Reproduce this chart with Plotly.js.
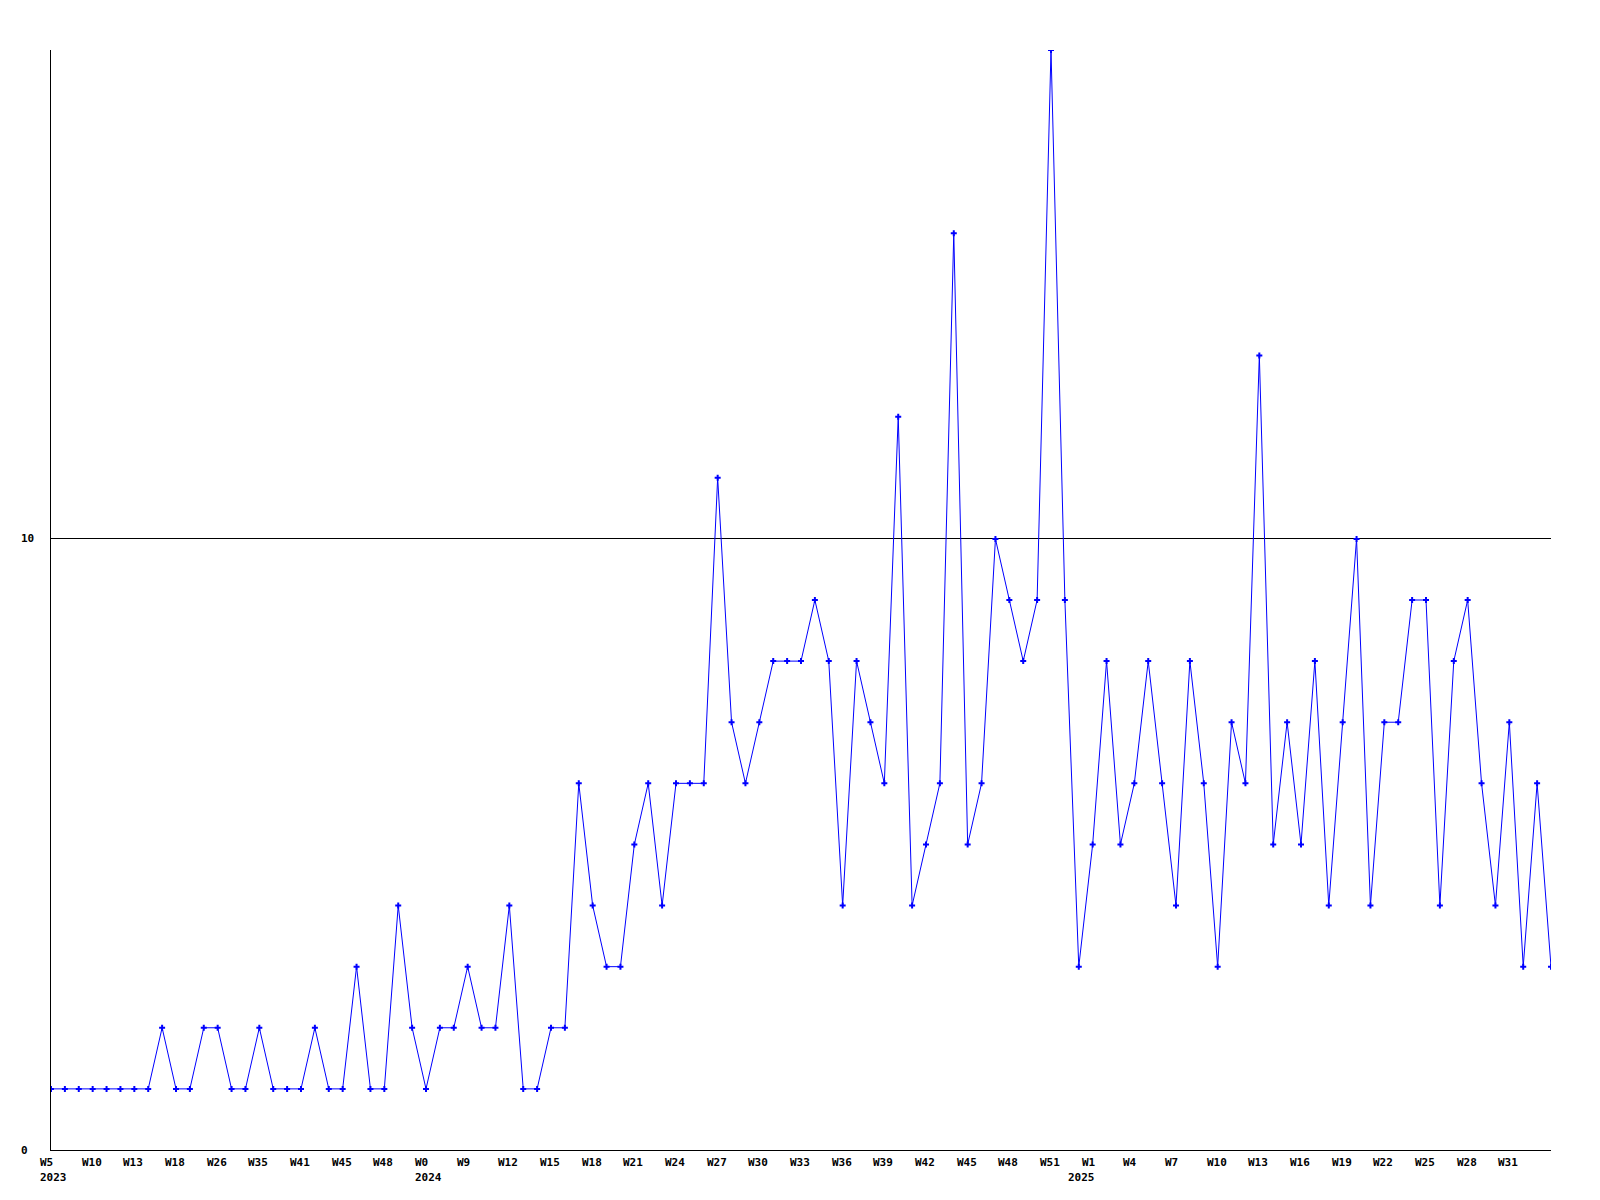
<!DOCTYPE html>
<html>
<head>
<meta charset="utf-8">
<script src="https://cdn.plot.ly/plotly-3.0.1.min.js"></script>
<style>html,body{margin:0;padding:0;background:#fff;}#chart{width:1600px;height:1200px;}</style>
</head>
<body>
<div id="chart"></div>
<script>
// weekly counts, one per point (109 points)
const counts = [
  1,1,1,1,1,1,1,1,2,1,1,2,2,1,1,2,1,1,1,2,1,1,3,1,1,4,2,1,2,2,
  3,2,2,4,1,1,2,2,6,4,3,3,5,6,4,6,6,6,11,7,6,7,8,8,8,9,8,4,8,7,
  6,12,4,5,6,15,5,6,10,9,8,9,18,9,3,5,8,5,6,8,6,4,8,6,3,7,6,13,5,7,
  5,8,4,7,10,4,7,7,9,9,4,8,9,6,4,7,3,6,3
];
// x tick labels, one every 3 points
const weekLabels = ["W5","W10","W13","W18","W26","W35","W41","W45","W48","W0","W9","W12",
  "W15","W18","W21","W24","W27","W30","W33","W36","W39","W42","W45","W48","W51",
  "W1","W4","W7","W10","W13","W16","W19","W22","W25","W28","W31"];
const yearLabels = ["2023","","","","","","","","","2024","","",
  "","","","","","","","","","","","","",
  "2025","","","","","","","","","",""];
const yTickVals = [0, 10];
const yTickText = ["0", "10"];

const tickStep = 3;
const xs = counts.map((v, i) => i);

const font = {family: "DejaVu Sans Mono, Liberation Mono, monospace", size: 11, color: "#000"};

const annotations = [];
weekLabels.forEach((t, k) => {
  annotations.push({x: k * tickStep, y: 0, xref: "x", yref: "y", text: "<b>" + t + "</b>",
    showarrow: false, xanchor: "left", yanchor: "middle", xshift: -13, yshift: -12, font: font});
});
yearLabels.forEach((t, k) => {
  if (!t) return;
  const rightAligned = (t === "2025");
  annotations.push({x: k * tickStep, y: 0, xref: "x", yref: "y", text: "<b>" + t + "</b>",
    showarrow: false, xanchor: rightAligned ? "right" : "left", yanchor: "middle",
    xshift: rightAligned ? 4 : -13, yshift: -27, font: font});
});
yTickVals.forEach((v, k) => {
  annotations.push({x: 0, y: v, xref: "paper", yref: "y", text: "<b>" + yTickText[k] + "</b>",
    showarrow: false, xanchor: "left", yanchor: "middle", xshift: -32, yshift: 0, font: font});
});

const trace = {
  x: xs, y: counts, type: "scatter", mode: "lines+markers",
  line: {color: "#0000ff", width: 1},
  marker: {color: "#0000ff", symbol: "cross", size: 5, line: {width: 0}},
  hoverinfo: "skip"
};

const layout = {
  width: 1600, height: 1200,
  margin: {l: 51, r: 49, t: 50, b: 50, pad: 0},
  paper_bgcolor: "#fff", plot_bgcolor: "#fff",
  showlegend: false,
  font: font,
  xaxis: {range: [0, counts.length - 1], showgrid: false, zeroline: false, showline: true,
    linecolor: "#000", linewidth: 1, showticklabels: false, ticks: "", mirror: false},
  yaxis: {range: [0, 18], showgrid: true, gridcolor: "#000", gridwidth: 1,
    tickvals: [10], zeroline: false, showline: true, linecolor: "#000", linewidth: 1,
    showticklabels: false, ticks: ""},
  annotations: annotations
};

Plotly.newPlot("chart", [trace], layout, {displayModeBar: false, staticPlot: true});
</script>
</body>
</html>
